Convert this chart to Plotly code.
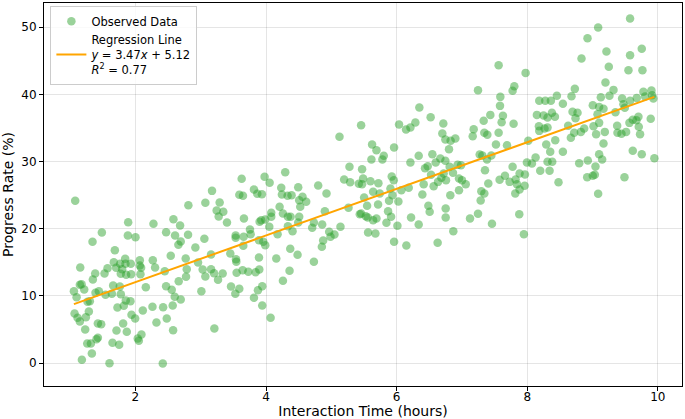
import numpy as np
import plotly.graph_objects as go

interaction_hours = [
    1.078, 1.889, 1.486, 1.343, 1.884, 2.001, 2.276, 1.685, 1.155, 1.669, 1.843, 1.766, 1.848, 1.929,
    1.573, 1.705, 1.797, 1.776, 1.858, 1.934, 2.067, 2.067, 2.087, 2.266, 2.301, 2.077, 1.527, 1.384,
    1.348, 1.175, 1.149, 1.216, 1.058, 1.099, 1.267, 1.302, 1.389, 1.440, 1.659, 1.761, 1.639, 1.542,
    1.776, 1.853, 1.924, 2.159, 1.725, 1.822, 2.113, 2.261, 1.068, 1.114, 1.149, 1.287, 1.241, 1.425,
    1.476, 1.231, 1.710, 1.812, 1.868, 1.940, 1.996, 2.092, 2.036, 2.052, 1.425, 1.404, 1.262, 1.318,
    1.649, 1.751, 1.333, 1.180, 1.603, 2.322, 2.419,
    3.627, 3.591, 3.647, 3.815, 3.866, 3.173, 3.071, 3.290, 2.811, 3.244, 3.346, 3.275, 3.402, 3.662,
    2.582, 2.684, 2.470, 2.607, 2.806, 2.694, 2.658, 3.056, 2.918, 3.535, 3.535, 3.657, 3.754, 3.764,
    3.652, 3.892, 3.902, 2.541, 2.770, 2.959, 3.158, 3.453, 3.540, 3.545, 3.892, 2.449, 2.786, 2.775,
    3.030, 3.071, 3.158, 3.204, 3.265, 3.336, 3.550, 3.642, 3.729, 3.841, 3.897, 2.663, 2.470, 2.556,
    2.602, 2.694, 3.010, 3.464, 3.591, 3.530, 3.876, 3.815, 2.424, 2.571, 2.480, 2.577, 3.209,
    5.125, 5.456, 5.278, 3.978, 4.294, 4.055, 4.233, 4.493, 4.243, 4.330, 4.391, 4.559, 4.508, 4.615,
    4.524, 4.799, 4.926, 5.196, 5.288, 5.421, 4.208, 3.937, 4.080, 4.080, 4.259, 4.335, 4.376, 4.508,
    3.927, 3.988, 4.050, 4.335, 4.493, 4.406, 4.177, 4.901, 4.733, 4.860, 4.707, 5.140, 5.263, 5.436,
    4.967, 5.048, 4.987, 4.875, 4.855, 3.958, 3.988, 4.371, 4.483, 4.157, 4.733, 4.360, 4.259, 3.942,
    3.942, 4.070,
    6.348, 6.521, 6.037, 6.144, 6.211, 6.287, 6.715, 6.700, 6.746, 6.827, 6.899, 6.802, 5.624, 5.691,
    5.961, 5.803, 5.782, 5.614, 6.338, 6.211, 5.471, 6.547, 6.669, 6.598, 6.435, 6.476, 6.746, 6.812,
    6.934, 6.863, 6.720, 6.527, 6.414, 6.567, 6.634, 6.685, 6.756, 6.955, 6.955, 6.822, 5.487, 5.471,
    5.599, 5.721, 5.925, 5.956, 5.905, 6.073, 6.185, 5.640, 5.742, 5.935, 5.502, 5.884, 6.027, 5.716,
    5.548, 6.394, 6.486, 6.506, 6.751, 6.751, 5.456, 5.528, 5.558, 5.640, 5.691, 5.869, 5.915, 5.844,
    6.012, 6.221, 6.338, 5.563, 5.675, 5.961, 6.149, 6.628, 6.868,
    7.562, 7.975, 7.246, 7.776, 7.802, 7.588, 7.583, 7.435, 7.333, 7.628, 7.608, 7.791, 7.180, 7.165,
    7.343, 7.389, 7.562, 7.521, 7.690, 8.184, 8.276, 8.362, 8.454, 8.148, 8.250, 8.311, 8.378, 8.424,
    8.179, 8.265, 8.311, 8.184, 8.016, 8.429, 8.291, 8.352, 8.311, 8.383, 8.128, 8.072, 7.995, 8.199,
    8.342, 8.479, 7.272, 7.312, 7.450, 7.384, 7.353, 6.986, 7.001, 7.058, 7.404, 7.577, 7.659, 7.730,
    7.776, 7.822, 7.842, 7.883, 7.965, 7.960, 7.817, 7.883, 7.297, 7.343, 7.287, 7.246, 7.124, 7.460,
    7.878, 7.949,
    9.575, 9.086, 8.923, 9.213, 9.754, 9.575, 8.831, 9.249, 9.550, 9.764, 9.198, 8.729, 9.321, 8.678,
    9.127, 9.259, 8.546, 9.779, 9.902, 9.912, 9.932, 9.805, 9.677, 9.575, 9.453, 9.473, 9.494, 9.004,
    9.101, 9.168, 9.076, 9.351, 8.694, 8.770, 8.739, 9.703, 9.672, 9.616, 9.565, 9.891, 9.101, 9.015,
    9.377, 9.708, 8.627, 8.872, 8.821, 8.719, 8.668, 9.188, 9.382, 9.443, 9.514, 9.728, 9.055, 9.168,
    8.546, 9.616, 9.754, 9.947, 9.101, 9.147, 8.928, 8.796, 9.045, 8.918, 9.004, 9.035, 9.489, 9.086,
]

progress_rate = [
    24.16, 20.98, 19.44, 18.06, 19.00, 18.75, 20.73, 16.82, 14.24, 15.03, 15.53, 14.78, 14.78, 14.78,
    14.14, 14.19, 13.99, 13.29, 13.14, 13.24, 15.33, 14.53, 14.19, 15.33, 14.24, 13.24, 13.34, 13.34,
    12.45, 11.76, 11.66, 10.96, 10.71, 9.82, 9.13, 9.23, 10.47, 10.71, 11.56, 11.41, 10.32, 10.17,
    10.27, 9.33, 9.23, 11.31, 8.28, 8.53, 7.84, 8.38, 7.39, 6.75, 6.20, 7.69, 6.85, 5.90,
    5.80, 5.01, 4.86, 5.90, 4.66, 7.19, 6.65, 4.27, 3.67, 3.32, 3.77, 3.57, 2.93, 2.93,
    3.03, 2.73, 1.44, 0.50, 0.00, 6.05, -0.05,
    27.43, 25.05, 24.90, 25.84, 25.20, 25.64, 23.86, 23.91, 23.51, 22.72, 22.52, 21.83, 20.93, 21.53,
    21.43, 20.49, 19.49, 19.00, 19.10, 18.11, 17.61, 18.50, 17.21, 19.00, 18.65, 18.80, 19.89, 19.20,
    17.46, 18.30, 21.03, 15.97, 15.58, 14.98, 16.17, 16.32, 15.48, 15.08, 15.72, 13.69, 13.99, 12.85,
    13.94, 12.90, 13.99, 13.39, 12.40, 13.34, 13.44, 13.84, 13.59, 13.54, 13.94, 12.20, 11.46, 10.91,
    9.87, 9.47, 10.71, 11.41, 11.06, 10.32, 10.86, 9.72, 8.33, 8.58, 6.65, 4.91, 5.16,
    33.68, 35.42, 29.22, 27.73, 28.42, 26.84, 26.09, 26.19, 25.10, 24.90, 25.00, 24.75, 24.26, 24.01,
    23.26, 26.44, 25.25, 27.33, 26.93, 26.69, 23.26, 25.15, 22.37, 21.78, 22.27, 21.78, 21.78, 21.78,
    21.28, 21.38, 20.29, 20.39, 20.93, 19.64, 19.20, 22.62, 20.93, 20.63, 20.14, 20.29, 23.12, 22.17,
    19.54, 19.15, 18.80, 18.25, 17.31, 18.06, 17.56, 17.01, 16.12, 15.58, 15.08, 13.74, 12.25, 11.46,
    8.58, 6.75,
    38.05, 36.61, 35.52, 34.77, 35.07, 35.81, 35.66, 34.18, 33.28, 33.09, 33.43, 31.85, 32.54, 31.70,
    32.09, 30.85, 30.31, 30.31, 30.85, 29.86, 28.87, 31.10, 30.46, 29.86, 29.02, 29.32, 30.11, 29.22,
    29.51, 28.32, 28.22, 28.03, 26.64, 26.34, 26.98, 27.58, 27.23, 27.48, 25.74, 25.00, 27.48, 26.64,
    27.08, 26.79, 27.78, 27.23, 25.99, 25.74, 26.09, 25.50, 25.25, 25.00, 24.65, 24.16, 24.06, 23.61,
    23.41, 25.10, 23.41, 22.52, 23.02, 21.68, 22.27, 21.88, 21.68, 21.28, 21.53, 22.62, 21.78, 20.88,
    20.44, 21.68, 20.63, 19.44, 19.30, 18.06, 17.51, 17.91, 19.64,
    44.35, 43.20, 40.63, 40.53, 41.22, 39.63, 38.29, 36.95, 36.06, 36.81, 35.86, 35.62, 34.82, 33.78,
    34.28, 33.98, 34.28, 32.54, 32.44, 39.04, 39.04, 39.04, 39.78, 36.95, 36.85, 36.56, 37.25, 36.66,
    35.27, 34.92, 35.07, 34.57, 33.09, 33.18, 32.54, 31.45, 29.96, 29.96, 30.61, 29.71, 29.86, 28.62,
    28.62, 26.93, 31.05, 30.90, 30.90, 30.31, 28.72, 29.46, 27.23, 26.64, 26.74, 27.28, 27.88, 26.98,
    29.22, 27.33, 26.64, 28.22, 28.08, 26.39, 25.25, 25.84, 25.60, 25.25, 24.21, 22.22, 21.53, 20.73,
    22.17, 19.20,
    51.29, 49.95, 48.36, 46.38, 46.78, 45.83, 45.34, 44.10, 43.60, 43.60, 41.77, 40.82, 40.67, 39.73,
    39.58, 39.78, 38.59, 40.38, 40.58, 39.88, 39.38, 39.68, 39.48, 39.04, 39.38, 38.54, 38.00, 38.39,
    38.14, 37.85, 37.05, 37.35, 37.40, 37.25, 36.46, 36.66, 36.16, 36.21, 35.76, 36.36, 35.76, 35.27,
    35.32, 35.17, 35.32, 34.92, 34.42, 34.28, 33.53, 34.42, 34.28, 34.13, 34.42, 34.08, 34.08, 32.69,
    31.45, 31.60, 31.10, 30.51, 31.10, 30.31, 30.16, 29.76, 29.27, 27.68, 27.88, 28.03, 27.68, 25.20,
]

# Regression parameters shown in the legend
slope = 3.47
intercept = 5.12
r_squared = 0.77

x_ticks = [2, 4, 6, 8, 10]
y_ticks = [0, 10, 20, 30, 40, 50]

xs = np.array(interaction_hours)
line_x = np.array([xs.min(), xs.max()])
line_y = slope * line_x + intercept

fig = go.Figure()
fig.add_trace(go.Scatter(
    x=interaction_hours, y=progress_rate, mode="markers",
    name="Observed Data",
    marker=dict(color="rgba(44,160,44,0.48)", size=8.5, line=dict(width=0)),
))
fig.add_trace(go.Scatter(
    x=line_x, y=line_y, mode="lines",
    name=f"Regression Line<br><i>y</i> = {slope:.2f}<i>x</i> + {intercept:.2f}<br><i>R</i><sup>2</sup> = {r_squared:.2f}",
    line=dict(color="orange", width=2),
))

axis_common = dict(
    showline=True, linecolor="black", linewidth=1, mirror=True,
    ticks="outside", ticklen=4, tickcolor="black",
    showgrid=True, gridcolor="rgba(0,0,0,0.1)", gridwidth=1,
    zeroline=False, automargin=False,
    tickfont=dict(family="DejaVu Sans", size=12, color="black"),
)

fig.update_layout(
    width=685, height=419,
    margin=dict(l=44, r=3, t=3, b=33),
    paper_bgcolor="white", plot_bgcolor="white",
    font=dict(family="DejaVu Sans", color="black"),
    xaxis=dict(range=[0.6, 10.37], tickvals=x_ticks, ticklabelstandoff=-4,
               title=dict(text="Interaction Time (hours)", font=dict(size=14), standoff=0),
               **axis_common),
    yaxis=dict(range=[-3.4, 53.6], tickvals=y_ticks,
               title=dict(text="Progress Rate (%)", font=dict(size=14), standoff=5),
               **axis_common),
    legend=dict(x=0.01, y=0.993, xanchor="left", yanchor="top",
                bgcolor="rgba(255,255,255,0.8)", bordercolor="#cccccc", borderwidth=1,
                font=dict(size=11.5), tracegroupgap=0, itemwidth=30),
    showlegend=True,
)

fig.write_html(
    "out.html",
    config={"displayModeBar": False},
    post_script="document.body.style.margin='0';document.body.style.overflow='hidden';",
)
